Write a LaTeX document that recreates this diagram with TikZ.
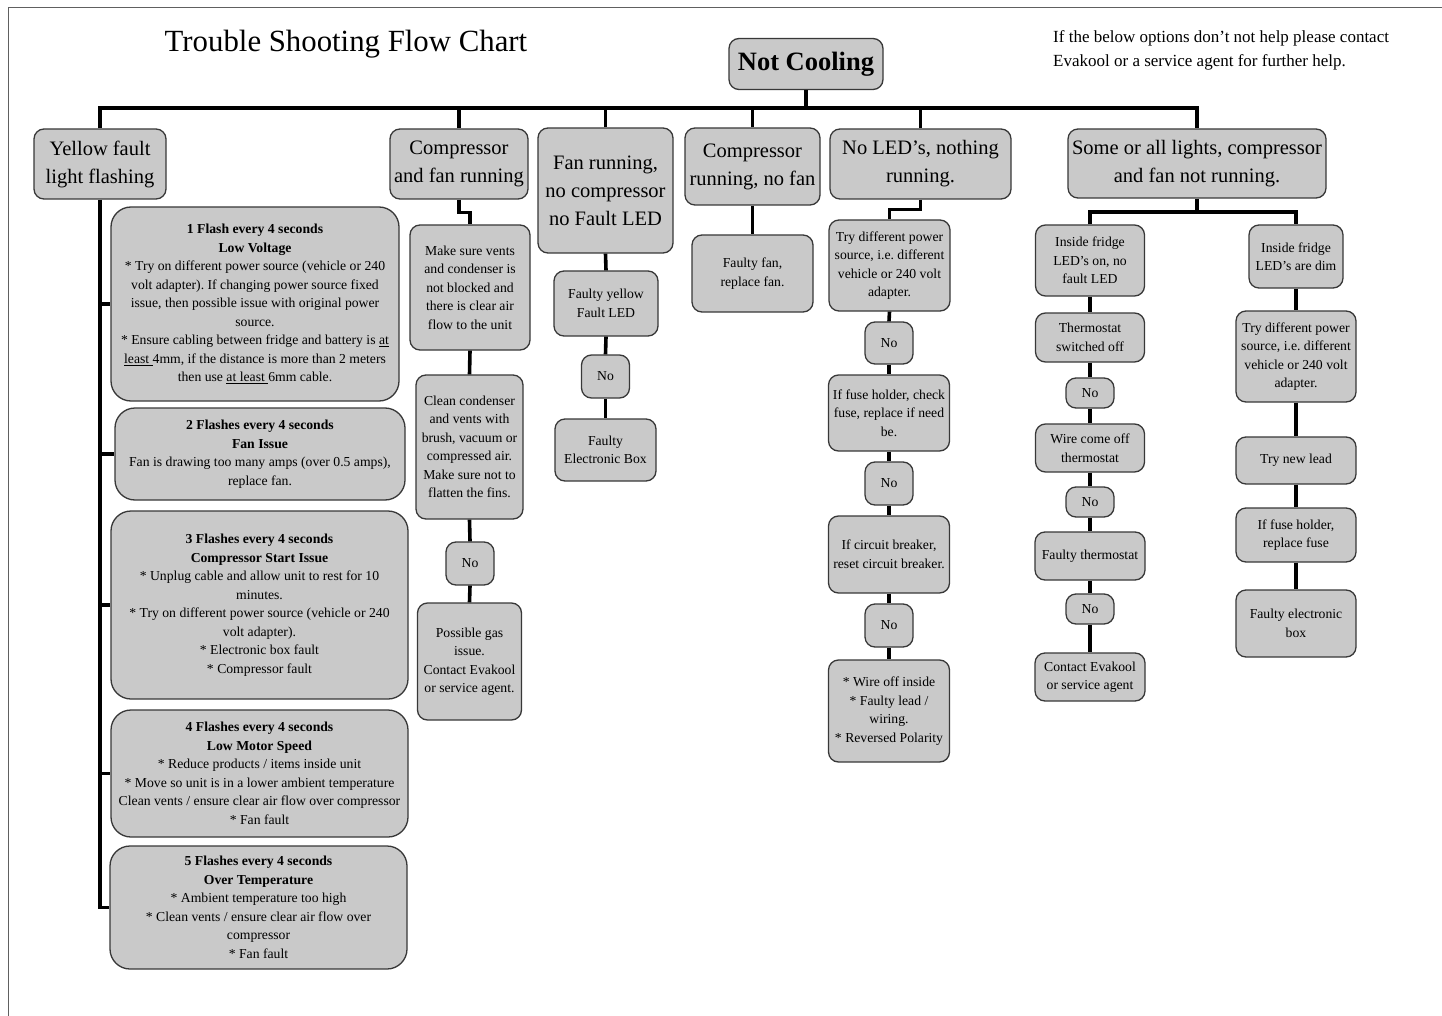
\documentclass[tikz,border=0pt]{standalone}
\usepackage{fontspec}
\setmainfont{Liberation Serif}
\usepackage{tikz}
\frenchspacing
\definecolor{boxgrey}{rgb}{0.79, 0.79, 0.79}
\definecolor{edgegrey}{rgb}{0.22, 0.22, 0.22}
\tikzset{
  cell/.style={draw=edgegrey, fill=boxgrey, line width=1.3pt, rounded corners=10pt,
    align=center, inner xsep=1pt, inner ysep=2pt, font=\fontsize{13.7}{18.5}\selectfont},
  head/.style={cell, font=\fontsize{20.5}{28}\selectfont},
  flash/.style={cell, rounded corners=20pt},
  wh/.style 2 args={minimum width=#1pt, minimum height=#2pt},
  wire/.style={line width=3.6pt}
}

\begin{document}
\begin{tikzpicture}[x=1pt,y=-1pt]
\useasboundingbox (0,0) rectangle (1442,1016);
\draw [edgegrey!80, line width=1pt] (8,1016) -- (8,8) -- (1442,8);
\node [font=\fontsize{30.8}{36}\selectfont, anchor=base] (title) at (346,52) {Trouble Shooting Flow Chart};
\node [font=\fontsize{17}{24}\selectfont, anchor=north west, align=left, inner sep=0pt] (note) at (1053,30)
  {If the below options don’t not help please contact\\Evakool or a service agent for further help.};
\node [head, wh={154}{51}, font=\fontsize{26.5}{30}\selectfont\bfseries] (nc) at (806,64) {Not Cooling};

\node [head, wh={132}{70}] (yellow) at (100,164) {Yellow fault\\light flashing};
\node [head, wh={138}{70}] (cfan) at (459,164) {Compressor\\and fan running};
\node [head, wh={135}{125}] (fanrun) at (605.5,190.5) {Fan running,\\no compressor\\no Fault LED};
\node [head, wh={135}{77}] (comprun) at (752.5,166.5) {Compressor\\running, no fan};
\node [head, wh={181}{70}] (noled) at (920.5,164) {No LED’s, nothing\\running.};
\node [head, wh={258}{69}] (lights) at (1197,163.5) {Some or all lights, compressor\\and fan not running.};

\node [flash, wh={288}{194}] (f1) at (255,304) {\textbf{1 Flash every 4 seconds}\\\textbf{Low Voltage}\\{*} Try on different power source (vehicle or 240\\volt adapter). If changing power source fixed\\issue, then possible issue with original power\\source.\\{*} Ensure cabling between fridge and battery is \underline{at}\\\underline{least }4mm, if the distance is more than 2 meters\\then use \underline{at least }6mm cable.};
\node [flash, wh={290}{92}] (f2) at (260,454) {\textbf{2 Flashes every 4 seconds}\\\textbf{Fan Issue}\\Fan is drawing too many amps (over 0.5 amps),\\replace fan.};
\node [flash, wh={297}{188}] (f3) at (259.5,605) {\textbf{3 Flashes every 4 seconds}\\\textbf{Compressor Start Issue}\\{*} Unplug cable and allow unit to rest for 10\\minutes.\\{*} Try on different power source (vehicle or 240\\volt adapter).\\{*} Electronic box fault\\{*} Compressor fault};
\node [flash, wh={297}{127}] (f4) at (259.5,773.5) {\textbf{4 Flashes every 4 seconds}\\\textbf{Low Motor Speed}\\{*} Reduce products / items inside unit\\{*} Move so unit is in a lower ambient temperature\\Clean vents / ensure clear air flow over compressor\\{*} Fan fault};
\node [flash, wh={297}{123}] (f5) at (258.5,907.5) {\textbf{5 Flashes every 4 seconds}\\\textbf{Over Temperature}\\{*} Ambient temperature too high\\{*} Clean vents / ensure clear air flow over\\compressor\\{*} Fan fault};

\node [cell, wh={120}{125}] (vents) at (470,287.5) {Make sure vents\\and condenser is\\not blocked and\\there is clear air\\flow to the unit};
\node [cell, wh={107}{144}] (clean) at (469.5,447) {Clean condenser\\and vents with\\brush, vacuum or\\compressed air.\\Make sure not to\\flatten the fins.};
\node [cell, wh={48}{43}] (no1) at (470,563.5) {No};
\node [cell, wh={104}{117}] (gas) at (469.5,661.5) {Possible gas\\issue.\\Contact Evakool\\or service agent.};

\node [cell, wh={104}{65}] (yled) at (606,303.5) {Faulty yellow\\Fault LED};
\node [cell, wh={48}{43}] (no2) at (605.5,376.5) {No};
\node [cell, wh={101}{62}] (ebox) at (605.5,450) {Faulty\\Electronic Box};

\node [cell, wh={121}{77}] (ffan) at (752.5,273.5) {Faulty fan,\\replace fan.};

\node [cell, wh={121}{91}] (power) at (889.5,265.5) {Try different power\\source, i.e. different\\vehicle or 240 volt\\adapter.};
\node [cell, wh={48}{42}] (no3) at (889,343) {No};
\node [cell, wh={121}{76}] (fuse) at (889,413) {If fuse holder, check\\fuse, replace if need\\be.};
\node [cell, wh={48}{43}] (no4) at (889,483.5) {No};
\node [cell, wh={121}{77}] (breaker) at (889,554.5) {If circuit breaker,\\reset circuit breaker.};
\node [cell, wh={48}{43}] (no5) at (889,625.5) {No};
\node [cell, wh={121}{102}] (wire) at (889,711) {{*} Wire off inside\\{*} Faulty lead /\\wiring.\\{*} Reversed Polarity};

\node [cell, wh={109}{71}] (ledon) at (1090,260.5) {Inside fridge\\LED’s on, no\\fault LED};
\node [cell, wh={109}{49}] (tstat) at (1090,337.5) {Thermostat\\switched off};
\node [cell, wh={48}{30}] (no6) at (1090,393) {No};
\node [cell, wh={109}{48}] (wcome) at (1090,448) {Wire come off\\thermostat};
\node [cell, wh={48}{30}] (no7) at (1090,502) {No};
\node [cell, wh={110}{48}] (ftstat) at (1090,556) {Faulty thermostat};
\node [cell, wh={48}{30}] (no8) at (1090,609) {No};
\node [cell, wh={110}{48}] (contact) at (1090,677) {Contact Evakool\\or service agent};

\node [cell, wh={94}{63}] (dim) at (1296,256.5) {Inside fridge\\LED’s are dim};
\node [cell, wh={120}{91}] (power2) at (1296,356.5) {Try different power\\source, i.e. different\\vehicle or 240 volt\\adapter.};
\node [cell, wh={120}{47}] (lead) at (1296,460.5) {Try new lead};
\node [cell, wh={120}{54}] (fuse2) at (1296,535) {If fuse holder,\\replace fuse};
\node [cell, wh={120}{67}] (febox) at (1296,623.5) {Faulty electronic\\box};

\coordinate (bus) at (806,108);
\draw [wire] (nc.south) -- (bus);
\draw [wire] (yellow.north) |- (bus) -| (lights.north);
\draw [wire] (cfan.north) -- (cfan.north |- bus);
\draw [wire] (fanrun.north) -- (fanrun.north |- bus);
\draw [wire] (comprun.north) -- (comprun.north |- bus);
\draw [wire] (noled.north) -- (noled.north |- bus);

\draw [wire] (yellow.south) |- (f5.west);
\draw [wire] (yellow.south |- f1.west) -- (f1.west);
\draw [wire] (yellow.south |- f2.west) -- (f2.west);
\draw [wire] (yellow.south |- f3.west) -- (f3.west);
\draw [wire] (yellow.south |- f4.west) -- (f4.west);

\draw [wire] (cfan.south) -- ++(0,13) -| (vents.north);
\draw [wire] (vents.south) -- (clean.north);
\draw [wire] (clean.south) -- (no1.north);
\draw [wire] (no1.south) -- (gas.north);

\draw [wire] (fanrun.south) -- (yled.north);
\draw [wire] (yled.south) -- (no2.north);
\draw [wire] (no2.south) -- (ebox.north);

\draw [wire] (comprun.south) -- (ffan.north);

\draw [wire] (noled.south) -- ++(0,10) -| (power.north);
\draw [wire] (power.south) -- (no3.north);
\draw [wire] (no3.south) -- (fuse.north);
\draw [wire] (fuse.south) -- (no4.north);
\draw [wire] (no4.south) -- (breaker.north);
\draw [wire] (breaker.south) -- (no5.north);
\draw [wire] (no5.south) -- (wire.north);

\coordinate (split) at (1197,212);
\draw [wire] (lights.south) -- (split);
\draw [wire] (ledon.north) |- (split) -| (dim.north);
\draw [wire] (ledon.south) -- (tstat.north);
\draw [wire] (tstat.south) -- (no6.north);
\draw [wire] (no6.south) -- (wcome.north);
\draw [wire] (wcome.south) -- (no7.north);
\draw [wire] (no7.south) -- (ftstat.north);
\draw [wire] (ftstat.south) -- (no8.north);
\draw [wire] (no8.south) -- (contact.north);
\draw [wire] (dim.south) -- (power2.north);
\draw [wire] (power2.south) -- (lead.north);
\draw [wire] (lead.south) -- (fuse2.north);
\draw [wire] (fuse2.south) -- (febox.north);
\end{tikzpicture}
\end{document}
